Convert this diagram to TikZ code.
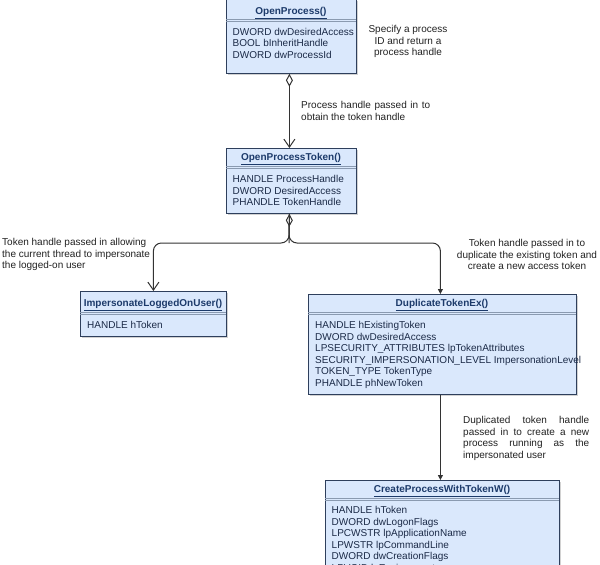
\documentclass[tikz,border=0pt]{standalone}
\usepackage{fontspec}
\setmainfont{Liberation Sans}
\usetikzlibrary{arrows.meta,shadows}
\definecolor{boxfill}{HTML}{DAE8FC}
\definecolor{boxline}{HTML}{2E3F5C}
\definecolor{titletext}{HTML}{1C3A6A}
\definecolor{bodytext}{HTML}{1B2A47}
\definecolor{sepline}{HTML}{8A9AB0}
\definecolor{conn}{HTML}{333333}
\definecolor{labeltext}{HTML}{222222}
\newcommand{\ttl}[1]{\textbf{\underline{#1}}}
\newcommand{\jline}[2]{\makebox[#1][s]{#2}}
\newcommand{\lefttext}[1]{\parbox[t]{300pt}{\raggedright\hyphenpenalty=10000 #1}}
\newcommand{\centertext}[1]{\parbox[t]{200pt}{\centering\hyphenpenalty=10000 #1}}
\tikzset{
  apibox/.style={draw=boxline, line width=0.8pt, fill=boxfill, anchor=north west, inner sep=0pt,
    drop shadow={shadow xshift=2pt, shadow yshift=-2pt, opacity=0.35}},
  titletxt/.style={anchor=base, inner sep=0pt, text=titletext, font=\fontsize{10}{11.5}\selectfont},
  bodytxt/.style={anchor=base west, inner sep=0pt, text=bodytext, font=\fontsize{10}{11.5}\selectfont},
  lbl/.style={anchor=base west, inner sep=0pt, text=labeltext, font=\fontsize{10}{11.5}\selectfont},
  clbl/.style={anchor=base, inner sep=0pt, text=labeltext, font=\fontsize{10}{11.5}\selectfont},
  sep/.style={draw=sepline, line width=0.5pt},
  conline/.style={draw=conn, line width=1pt},
  openhead/.style={-{Straight Barb[length=8pt,width=11pt,line width=1pt]}},
  filledhead/.style={-{Triangle[length=5pt,width=5pt]}},
  diamstart/.style={{Diamond[open,length=13pt,width=7pt,line width=1pt]}-},
  diamopen/.style={{Diamond[open,length=13pt,width=7pt,line width=1pt]}-{Straight Barb[length=8pt,width=11pt,line width=1pt]}}
}
\begin{document}
\begin{tikzpicture}[x=1pt,y=-1pt]
\clip (0,0) rectangle (600,565);
\fill[white] (0,0) rectangle (600,565);

% OpenProcess
\node[apibox, minimum width=130pt, minimum height=74pt] (op) at (226,-1) {};
\draw[sep] (226,19.5) -- (356,19.5) (226,21.5) -- (356,21.5);
\node[titletxt] (opt) at (291,14.5) {\ttl{OpenProcess()}};
\node[bodytxt] (opb) at (232.5,35) {\lefttext{DWORD dwDesiredAccess\\BOOL bInheritHandle\\DWORD dwProcessId}};

% OpenProcessToken
\node[apibox, minimum width=130pt, minimum height=65pt] (opt2) at (226,148) {};
\draw[sep] (226,166.5) -- (356,166.5) (226,168.5) -- (356,168.5);
\node[titletxt] (optt) at (291,160.5) {\ttl{OpenProcessToken()}};
\node[bodytxt] (optb) at (232.5,182.5) {\lefttext{HANDLE ProcessHandle\\DWORD DesiredAccess\\PHANDLE TokenHandle}};

% ImpersonateLoggedOnUser
\node[apibox, minimum width=146pt, minimum height=45pt] (imp) at (80,291) {};
\draw[sep] (80,312.5) -- (226,312.5) (80,314.5) -- (226,314.5);
\node[titletxt] (impt) at (153,306.5) {\ttl{ImpersonateLoggedOnUser()}};
\node[bodytxt] (impb) at (87,328.5) {HANDLE hToken};

% DuplicateTokenEx
\node[apibox, minimum width=268pt, minimum height=100pt] (dup) at (308,294) {};
\draw[sep] (308,312.5) -- (576,312.5) (308,314.5) -- (576,314.5);
\node[titletxt] (dupt) at (442,306.5) {\ttl{DuplicateTokenEx()}};
\node[bodytxt] (dupb) at (315,328.5) {\lefttext{HANDLE hExistingToken\\DWORD dwDesiredAccess\\LPSECURITY\_ATTRIBUTES lpTokenAttributes\\SECURITY\_IMPERSONATION\_LEVEL ImpersonationLevel\\TOKEN\_TYPE TokenType\\PHANDLE phNewToken}};

% CreateProcessWithTokenW
\node[apibox, minimum width=234pt, minimum height=120pt] (cp) at (325,480) {};
\draw[sep] (325,498.5) -- (559,498.5) (325,500.5) -- (559,500.5);
\node[titletxt] (cpt) at (442,492.5) {\ttl{CreateProcessWithTokenW()}};
\node[bodytxt] (cpb) at (331.5,513.5) {\lefttext{HANDLE hToken\\DWORD dwLogonFlags\\LPCWSTR lpApplicationName\\LPWSTR lpCommandLine\\DWORD dwCreationFlags\\LPVOID lpEnvironment}};

% Labels
\node[clbl] (l1) at (408,32.5) {\centertext{Specify a process\\ID and return a\\process handle}};
\node[lbl] (l2) at (301,108.5) {\parbox[t]{129pt}{\jline{129pt}{Process handle passed in to}\\obtain the token handle}};
\node[lbl] (l3) at (2,245.5) {\lefttext{Token handle passed in allowing\\the current thread to impersonate\\the logged-on user}};
\node[clbl] (l4) at (527,246.5) {\centertext{Token handle passed in to\\duplicate the existing token and\\create a new access token}};
\node[lbl] (l5) at (463,423.5) {\parbox[t]{126pt}{\jline{126pt}{Duplicated token handle}\\\jline{126pt}{passed in to create a new}\\\jline{126pt}{process running as the}\\impersonated user}};

% Connectors
\coordinate (j) at (289,243);
\draw[conline, diamopen] ([xshift=-2pt]op.south) -- ([xshift=-2pt]opt2.north);
\draw[conline, diamstart] ([xshift=-2pt]opt2.south) -- (j);
\draw[conline, openhead, rounded corners=8pt] ([xshift=-2pt]opt2.south) -- (j) -| (imp.north);
\draw[conline, filledhead, rounded corners=8pt] ([xshift=-2pt]opt2.south) -- (j) -| ([xshift=-2pt]dup.north);
\draw[conline, filledhead] ([xshift=-2pt]dup.south) -- ([xshift=-2pt]cp.north);
\end{tikzpicture}
\end{document}
